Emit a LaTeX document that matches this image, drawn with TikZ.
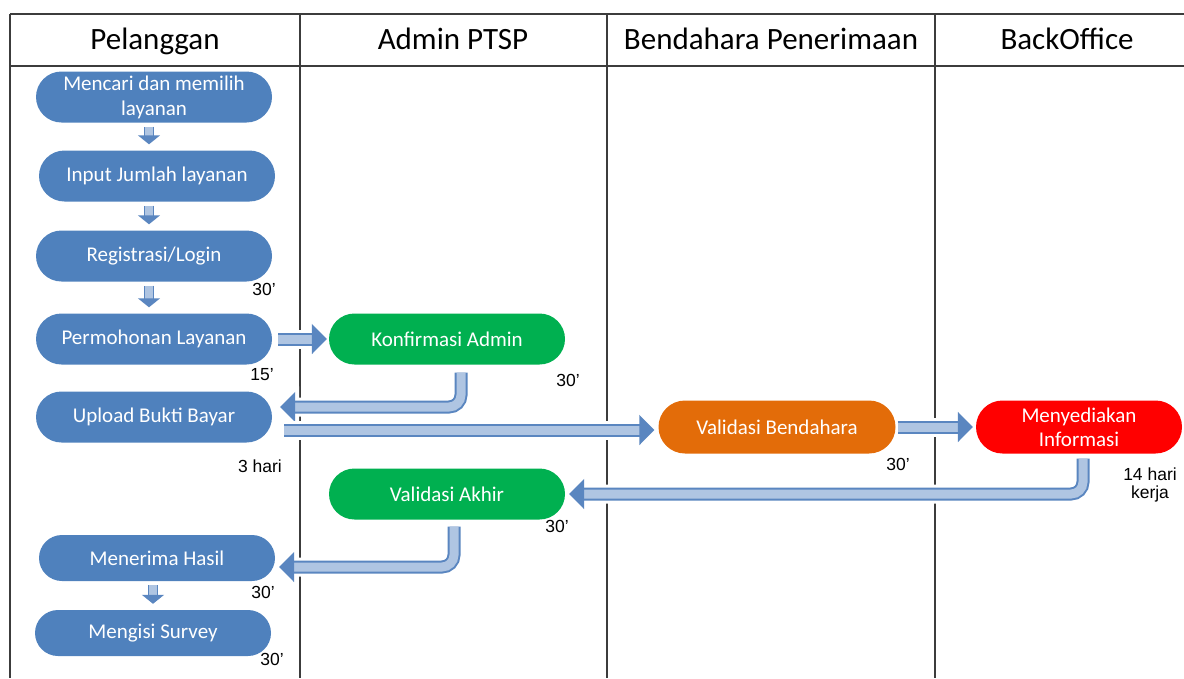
\documentclass[tikz,border=0pt]{standalone}
\usepackage{fontspec}
\setmainfont{Carlito}
\newfontfamily\durfont{Liberation Sans}
\usetikzlibrary{arrows.meta, shapes.misc}

\definecolor{procblue}{HTML}{4F81BD}
\definecolor{procgreen}{HTML}{00B050}
\definecolor{procorange}{HTML}{E36C09}
\definecolor{procred}{HTML}{FF0000}
\definecolor{flowdark}{HTML}{5A86C0}
\definecolor{flowlight}{HTML}{AFC5E2}
\definecolor{gridgray}{HTML}{3C3C3C}

\tikzset{
  proc/.style={rounded rectangle, minimum width=238pt, minimum height=51pt,
    inner sep=1pt, text=white, align=center, font=\fontsize{21}{25}\selectfont},
  lane/.style={anchor=base, font=\fontsize{31}{36}\selectfont},
  dur/.style={anchor=base, inner sep=0pt, align=center,
    font=\durfont\fontsize{17.5}{18}\selectfont},
  flow/.style={draw=flowdark, line width=2pt, double=flowlight, double distance=9pt,
    -{Triangle[length=15pt,width=30pt]}, rounded corners=12pt,
    preaction={draw=white, line width=19pt, -{Triangle[length=19pt,width=40pt]}}},
  flowsm/.style={draw=flowdark, line width=1.5pt, double=flowlight, double distance=7.5pt,
    -{Triangle[length=9pt,width=22pt]}, shorten <=4pt, shorten >=6pt,
    preaction={draw=white, line width=15pt, -{Triangle[length=12pt,width=30pt]}}},
}

\begin{document}
\begin{tikzpicture}[x=1pt, y=-1pt]
\useasboundingbox (0,0) rectangle (1184,678);
% Lanes
\draw[gridgray, line width=2pt] (10,14) -- (1184,14);
\draw[gridgray, line width=2pt] (10,66) -- (1184,66);
\draw[gridgray, line width=2pt] (10,14) -- (10,678);
\draw[gridgray, line width=2pt] (300,14) -- (300,678);
\draw[gridgray, line width=2pt] (607,14) -- (607,678);
\draw[gridgray, line width=2pt] (935,14) -- (935,678);
\node[lane] (hpel) at (155,49) {Pelanggan};
\node[lane] (hadm) at (453,49) {Admin PTSP};
\node[lane] (hben) at (771,49) {Bendahara Penerimaan};
\node[lane] (hbo) at (1067,49) {BackOffice};
% Pelanggan
\node[proc, fill=procblue] (mencari) at (154,97) {Mencari dan memilih\\layanan};
\node[proc, fill=procblue] (input) at (157,176) {Input Jumlah layanan};
\node[proc, fill=procblue] (regis) at (154,256) {Registrasi/Login};
\node[proc, fill=procblue] (mohon) at (154,339) {Permohonan Layanan};
\node[proc, fill=procblue] (upload) at (154,417) {Upload Bukti Bayar};
\node[proc, fill=procblue, minimum height=46pt] (terima) at (157,558) {Menerima Hasil};
\node[proc, fill=procblue, minimum height=46pt] (survey) at (153,633) {Mengisi Survey};
% Admin PTSP
\node[proc, fill=procgreen] (konf) at (447,339) {Konfirmasi Admin};
\node[proc, fill=procgreen] (valakhir) at (447,494) {Validasi Akhir};
% Bendahara, BackOffice
\node[proc, fill=procorange, minimum width=239pt, minimum height=53pt] (valbend) at (777,427) {Validasi Bendahara};
\node[proc, fill=procred, minimum width=208pt, minimum height=53pt, font=\fontsize{21}{24}\selectfont] (menyed) at (1079,427) {Menyediakan\\Informasi};
% Durations
\node[dur] (d1) at (264,295) {30’};
\node[dur] (d2) at (262,380) {15’};
\node[dur] (d3) at (568,386) {30’};
\node[dur] (d4) at (260,472) {3 hari};
\node[dur] (d5) at (898,470) {30’};
\node[dur] (d6) at (1150,498) {14 hari\\kerja};
\node[dur] (d7) at (557,532) {30’};
\node[dur] (d8) at (263,598) {30’};
\node[dur] (d9) at (272,665) {30’};
% Arrows down
\draw[flowsm] ([xshift=-5pt]mencari.south) -- ([xshift=-5pt]mencari.south |- input.north);
\draw[flowsm] ([xshift=-8pt]input.south) -- ([xshift=-8pt]input.south |- regis.north);
\draw[flowsm] ([xshift=-5pt]regis.south) -- ([xshift=-5pt]regis.south |- mohon.north);
\draw[flowsm] ([xshift=-4pt]terima.south) -- ([xshift=-4pt]terima.south |- survey.north);
% Arrows between lanes
\draw[flow, shorten <=6pt, shorten >=2pt] (mohon.east) -- (mohon.east -| konf.west);
\draw[flow, shorten <=8pt, shorten >=8pt] ([xshift=14pt]konf.south) |- ([yshift=10pt]upload.east);
\draw[flow, shorten <=12pt, shorten >=4pt] ([yshift=-13pt]upload.east) -- ([yshift=-13pt]upload.east -| valbend.west);
\draw[flow, shorten <=2pt, shorten >=3pt] (valbend.east) -- (valbend.east -| menyed.west);
\draw[flow, shorten <=5pt, shorten >=4pt] ([xshift=4pt]menyed.south) |- (valakhir.east);
\draw[flow, shorten <=7pt, shorten >=4pt] ([xshift=7pt]valakhir.south) |- ([yshift=-9pt]terima.east);
\end{tikzpicture}
\end{document}
